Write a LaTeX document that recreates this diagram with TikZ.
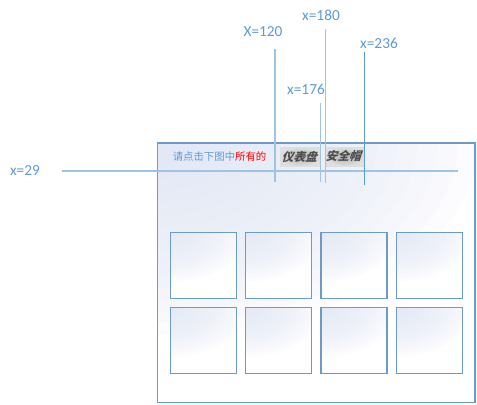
\documentclass[tikz,border=0pt]{standalone}
\usepackage{fontspec}
\setmainfont{Carlito}
\newfontfamily\cjk{Noto Sans CJK SC}
\usetikzlibrary{shadings}
\definecolor{lbl}{HTML}{5B9BD5}
\definecolor{lnlight}{HTML}{9DC3E6}
\definecolor{frm}{HTML}{6A9BCB}
\definecolor{bgtl}{HTML}{E2E8F6}
\tikzset{
  lbltext/.style={text=lbl, font=\fontsize{11.5}{12}\selectfont, inner sep=0pt},
  guide/.style={draw=lnlight, line width=1.1pt},
  guidedark/.style={draw=lbl, line width=0.9pt},
  tileedge/.style={draw=frm, line width=0.9pt},
  glowlayer/.style={fill=bgtl, fill opacity=0.1},
  captbox/.style={inner color=gray!60, outer color=gray!25},
  capt/.style={inner sep=0pt, font=\cjk\fontsize{8.8}{9}\selectfont\bfseries, text=black!70, xslant=0.3}
}
\begin{document}
\begin{tikzpicture}[x=0.75pt,y=-0.75pt]
\useasboundingbox (0,0) rectangle (477,404);
% outer frame
\fill[white] (157.5,143) rectangle (475,402.5);
\begin{scope}
\clip (157.5,143) rectangle (475,402.5);
\foreach \k in {1,...,16}{
  \path[glowlayer] (157.5,143) ellipse [x radius={\k*20}, y radius={\k*12}];
}
\end{scope}
\draw[frm, line width=0.9pt] (157.5,143) rectangle (475,402.5);
% prompt text
\node[anchor=west, inner sep=0pt, font=\cjk\fontsize{7.8}{8}\selectfont] (prompt) at (172.5,157) {\textcolor{lbl}{请点击下图中}\textcolor{red}{所有的}};
% captcha images
\shade[captbox] (280,147) rectangle (320,166);
\shade[captbox] (325,147) rectangle (364,166);
\node[capt] (c1) at (300.5,156.5) {仪表盘};
\node[capt] (c2) at (344.5,156.5) {安全帽};
% tiles
\foreach \x in {170.5,245.8,321,396.5}{
  \foreach \y in {232.5,307.5}{
    \fill[white] (\x,\y) rectangle ++(66,66);
    \begin{scope}
      \clip (\x,\y) rectangle ++(66,66);
      \foreach \k in {1,...,14}{
        \path[glowlayer] (\x,\y) ellipse [x radius={\k*5.5}, y radius={\k*3.5}];
      }
    \end{scope}
    \draw[tileedge] (\x,\y) rectangle ++(66,66);
  }
}
% labels
\node[lbltext] (l120) at (263,32) {X=120};
\node[lbltext] (l180) at (321,15) {x=180};
\node[lbltext] (l176) at (306,89) {x=176};
\node[lbltext] (l236) at (379,43) {x=236};
\node[lbltext] (l29) at (25,171) {x=29};
% guide lines
\coordinate (h1) at (62,171); \coordinate (h2) at (458,171);
\draw[guide] (h1) -- (h2);
\coordinate (a1) at (275,49); \coordinate (a2) at (275,182);
\draw[guide] (a1) -- (a2);
\coordinate (b1) at (325.3,29); \coordinate (b2) at (325.3,183);
\draw[guide] (b1) -- (b2);
\coordinate (c1a) at (320.7,103); \coordinate (c1b) at (320.7,182);
\draw[guide] (c1a) -- (c1b);
\coordinate (d1) at (364.3,52); \coordinate (d2) at (364.3,185);
\draw[guidedark] (d1) -- (d2);
\end{tikzpicture}
\end{document}
